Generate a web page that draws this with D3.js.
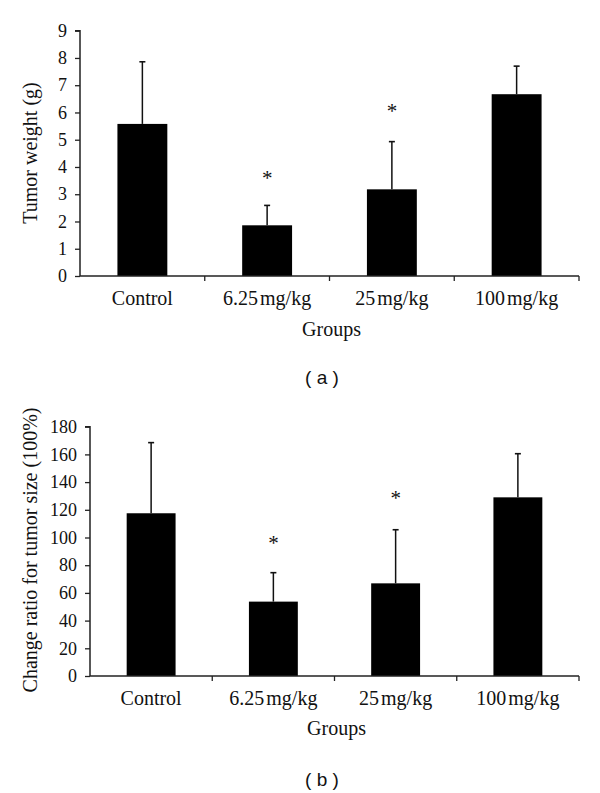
<!DOCTYPE html>
<html>
<head>
<meta charset="utf-8">
<script src="https://cdn.jsdelivr.net/npm/d3@7"></script>
<style>
html,body{margin:0;padding:0;background:#fff;}
svg{display:block;}
</style>
</head>
<body>
<svg id="chart" width="600" height="793"></svg>
<script>
// ---- data ----
const categories = ["Control", "6.25 mg/kg", "25 mg/kg", "100 mg/kg"];
const weightMeans = [5.58, 1.86, 3.18, 6.67];
const weightErrTop = [7.86, 2.59, 4.93, 7.70];
const weightStars = [false, true, true, false];
const weightTicks = [0,1,2,3,4,5,6,7,8,9];

const ratioMeans = [117.5, 53.7, 66.9, 129.0];
const ratioErrTop = [168.5, 74.6, 105.6, 160.5];
const ratioStars = [false, true, true, false];
const ratioTicks = [0,20,40,60,80,100,120,140,160,180];

const svg = d3.select("#chart");
const serif = "'Liberation Serif', 'Times New Roman', serif";
const sans = "'Liberation Sans', Arial, sans-serif";

function panel(opts) {
  const g = svg.append("g");
  const xb = d3.scaleBand().domain(categories).range([opts.x0, opts.x1]);
  const y = d3.scaleLinear().domain([0, opts.ymax]).range([opts.yb, opts.yt]);
  const cx = i => xb(categories[i]) + xb.bandwidth()/2;

  // bars
  g.selectAll("rect.bar").data(opts.means).enter().append("rect")
    .attr("x", (d,i) => cx(i) - xb.bandwidth()*0.2)
    .attr("width", xb.bandwidth()*0.4)
    .attr("y", d => y(d))
    .attr("height", d => y(0) - y(d))
    .attr("fill", "#000");

  // error bars
  opts.errTop.forEach((e, i) => {
    g.append("line").attr("x1", cx(i)).attr("x2", cx(i))
      .attr("y1", y(opts.means[i])).attr("y2", y(e))
      .attr("stroke", "#111").attr("stroke-width", 1.5);
    g.append("line").attr("x1", cx(i)-3).attr("x2", cx(i)+3)
      .attr("y1", y(e)).attr("y2", y(e))
      .attr("stroke", "#111").attr("stroke-width", 1.6);
    if (opts.stars[i]) {
      g.append("text").attr("x", cx(i)).attr("y", y(e) - opts.starGap[i])
        .attr("text-anchor", "middle").attr("font-family", serif)
        .attr("font-size", 21).attr("fill", "#111").text("*");
    }
  });

  // y axis
  const yAxis = d3.axisLeft(y).tickValues(opts.ticks).tickSize(5).tickPadding(8);
  const ya = g.append("g").attr("transform", `translate(${opts.x0},0)`).call(yAxis);
  ya.attr("font-family", serif).attr("font-size", 18);
  ya.select(".domain").attr("stroke", "#222").attr("stroke-width", 1.5).attr("d", `M-5,${opts.yt}H0V${opts.yb}`);
  ya.selectAll(".tick line").attr("stroke", "#222").attr("stroke-width", 1.3);
  ya.selectAll(".tick text").attr("font-family", serif).attr("font-size", 18).attr("fill", "#111");

  // x axis
  const xAxis = d3.axisBottom(xb).tickSize(0).tickPadding(0).tickFormat(d => d);
  const xa = g.append("g").attr("transform", `translate(0,${opts.yb})`).call(xAxis);
  xa.attr("font-family", serif).attr("font-size", 20);
  xa.select(".domain").attr("stroke", "#222").attr("stroke-width", 1.5).attr("d", `M${opts.x0},0H${opts.x1}`);
  xa.selectAll(".tick text").attr("font-family", serif).attr("font-size", 20).attr("fill", "#111")
    .attr("dy", null).attr("y", opts.catGap).style("word-spacing", "-3px");
  // boundary ticks
  const bounds = categories.slice(1).map(c => xb(c)).concat([opts.x1]);
  g.selectAll("line.bt").data(bounds).enter().append("line")
    .attr("x1", d => d).attr("x2", d => d)
    .attr("y1", opts.yb).attr("y2", opts.yb + 5)
    .attr("stroke", "#222").attr("stroke-width", 1.3);

  // titles
  g.append("text").attr("x", (opts.x0 + opts.x1)/2 + 2).attr("y", opts.groupsY)
    .attr("text-anchor", "middle").attr("font-family", serif).attr("font-size", 20).attr("fill", "#111").text("Groups");
  g.append("text").attr("transform", `translate(${opts.ylabX},${opts.ylabY}) rotate(-90)`)
    .attr("text-anchor", "middle").attr("font-family", serif).attr("font-size", 20).attr("fill", "#111").text(opts.ylabel);
  g.append("text").attr("x", 322).attr("y", opts.panelY)
    .attr("text-anchor", "middle").attr("font-family", sans).attr("font-size", 19).attr("fill", "#111")
    .style("white-space", "pre").text(opts.panelLabel);
}

panel({
  x0: 80, x1: 579, yb: 276, yt: 30.7, ymax: 9,
  means: weightMeans, errTop: weightErrTop, stars: weightStars, ticks: weightTicks,
  starGap: [0, 20, 24, 0], catGap: 29, groupsY: 336, ylabX: 37, ylabY: 153,
  ylabel: "Tumor weight (g)", panelY: 384, panelLabel: "( a )"
});
panel({
  x0: 90, x1: 579, yb: 676, yt: 426.7, ymax: 180,
  means: ratioMeans, errTop: ratioErrTop, stars: ratioStars, ticks: ratioTicks,
  starGap: [0, 23, 25, 0], catGap: 29, groupsY: 735, ylabX: 37, ylabY: 550,
  ylabel: "Change ratio for tumor size (100%)", panelY: 786, panelLabel: "( b )"
});
</script>
</body>
</html>
